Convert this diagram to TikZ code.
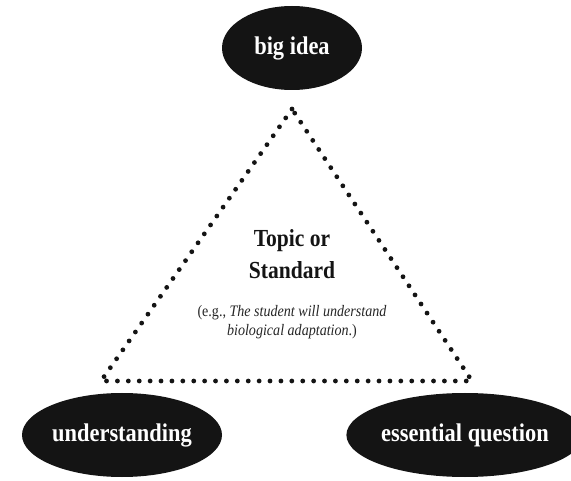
\documentclass[tikz,border=0pt]{standalone}
\usepackage{fontspec}
\setmainfont{Liberation Serif}[FakeStretch=0.88]
\usetikzlibrary{shapes.geometric}
\definecolor{blob}{HTML}{141414}
\definecolor{note}{HTML}{262626}
\tikzset{
  blobnode/.style={ellipse, fill=blob, draw=none, text=white, font=\fontsize{25.5}{28}\selectfont\bfseries, inner sep=0pt},
  dotline/.style={line width=4.8pt, line cap=round, dash pattern=on 0pt off 10.9pt, color=blob},
}
\begin{document}
\begin{tikzpicture}[x=1pt,y=-1pt]
\useasboundingbox (0,0) rectangle (571,481);
\node[blobnode, minimum width=140pt, minimum height=84pt] (big) at (292,48) {big idea};
\node[blobnode, minimum width=200pt, minimum height=84pt] (und) at (122,435) {understanding};
\node[blobnode, minimum width=200pt, minimum height=84pt] (ess) at (465,435) {essential question};
\coordinate (A) at (292,109);
\coordinate (B) at (101,381);
\coordinate (C) at (472,381);
\draw[dotline] (A) -- (B) -- (C) -- cycle;
\node[font=\fontsize{24.5}{32}\selectfont\bfseries, text=blob, align=center] (topic) at (292,254) {Topic or\\Standard};
\node[font=\fontsize{16}{19}\selectfont, text=note, align=center] (eg) at (292,322) {(e.g., \textit{The student will understand}\\\textit{biological adaptation}.)};
\end{tikzpicture}
\end{document}
